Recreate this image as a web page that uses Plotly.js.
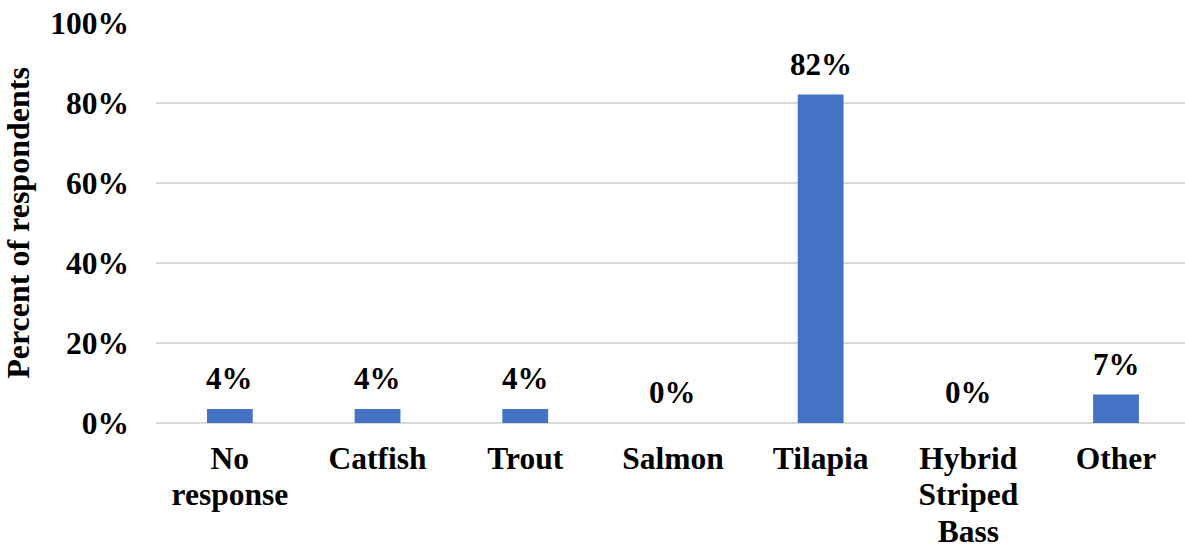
<!DOCTYPE html>
<html>
<head>
<meta charset="utf-8">
<script src="https://cdn.plot.ly/plotly-3.0.1.min.js"></script>
<style>html,body{margin:0;padding:0;background:#fff;}#chart{width:1185px;height:550px;}</style>
</head>
<body>
<div id="chart"></div>
<script>
var categories = ["No<br>response", "Catfish", "Trout", "Salmon", "Tilapia", "Hybrid<br>Striped<br>Bass", "Other"];
var percents = [3.5, 3.5, 3.5, 0, 82.1, 0, 7.1];
var yTickVals = [0, 20, 40, 60, 80, 100];
var yTickText = ["0%", "20%", "40%", "60%", "80%", "100%"];
var yTitle = "Percent of respondents";

var FONT = "Liberation Serif, Times New Roman, serif";
var TICK_SIZE = 31.5;
var labelText = percents.map(function (v) { return Math.round(v) + "%"; });

var trace = {
  type: "bar",
  x: categories,
  y: percents,
  marker: { color: "#4472c4" },
  hoverinfo: "skip",
  cliponaxis: false
};

var annotations = percents.map(function (v, i) {
  return {
    x: categories[i], y: v, xref: "x", yref: "y",
    text: "<b>" + labelText[i] + "</b>",
    showarrow: false, yanchor: "bottom", yshift: 11,
    font: { family: FONT, size: 31, color: "#000" }
  };
});

var layout = {
  width: 1185, height: 550,
  margin: { l: 156, r: 0, t: 23, b: 127, autoexpand: false },
  paper_bgcolor: "#fff", plot_bgcolor: "#fff",
  showlegend: false,
  bargap: 0.69,
  font: { family: FONT, color: "#000" },
  xaxis: {
    type: "category",
    range: [-0.5, 6.467],
    showgrid: false, zeroline: false, showline: false,
    ticks: "", automargin: false,
    ticklabelstandoff: 13,
    tickfont: { family: FONT, size: TICK_SIZE, color: "#000", weight: "bold" }
  },
  yaxis: {
    range: [0, 100],
    tickvals: yTickVals, ticktext: yTickText,
    showgrid: true, gridcolor: "#d9d9d9", gridwidth: 1.3,
    zeroline: true, zerolinecolor: "#d9d9d9", zerolinewidth: 1.3,
    showline: false, ticks: "", automargin: false,
    ticklabelstandoff: 26,
    tickfont: { family: FONT, size: TICK_SIZE, color: "#000", weight: "bold" },
    title: { text: yTitle, standoff: 13, font: { family: FONT, size: 32, color: "#000", weight: "bold" } }
  },
  annotations: annotations
};

Plotly.newPlot("chart", [trace], layout, { displayModeBar: false, staticPlot: true }).then(function (gd) {
  // tighten multi-line category label spacing to match reference (~36.7px per line)
  var factor = 36.7 / (1.3 * TICK_SIZE);
  var spans = gd.querySelectorAll(".xtick text tspan.line");
  spans.forEach(function (s) {
    var dy = s.getAttribute("dy");
    if (dy && dy.indexOf("em") > 0) {
      var v = parseFloat(dy);
      s.setAttribute("dy", (v * factor) + "em");
    }
  });
});
</script>
</body>
</html>
